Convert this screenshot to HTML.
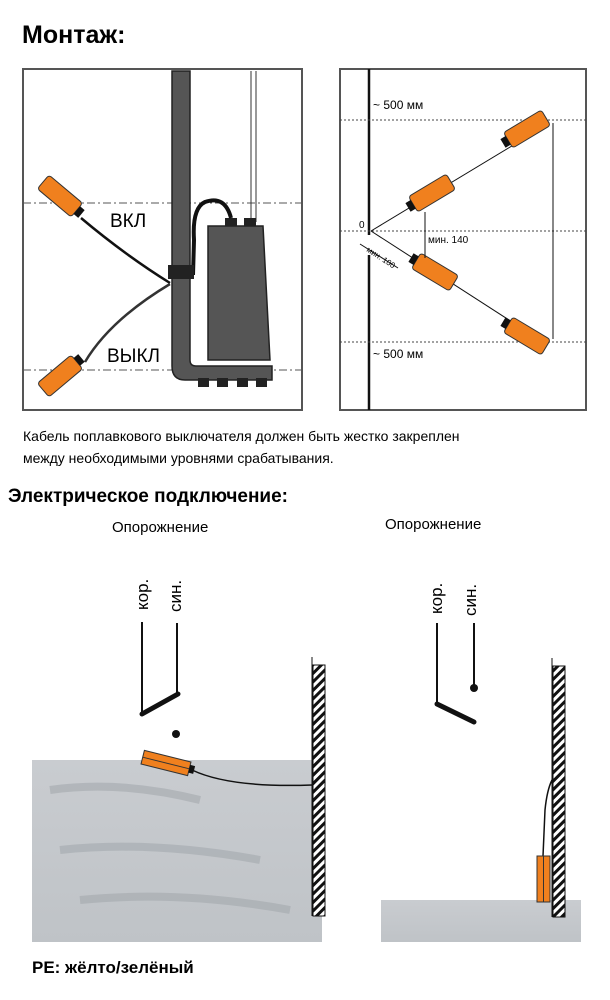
<!DOCTYPE html>
<html><head><meta charset="utf-8"><style>
body{margin:0;background:#fff;width:610px;height:1000px;overflow:hidden}
svg{display:block}
text{font-family:"Liberation Sans",sans-serif}
</style></head><body>
<svg width="610" height="1000" viewBox="0 0 610 1000">
<defs>
<pattern id="hatch" width="6" height="6" patternUnits="userSpaceOnUse" patternTransform="rotate(45)">
<rect width="6" height="6" fill="#fff"/><rect width="3" height="6" fill="#111"/></pattern>
<linearGradient id="wat" x1="0" y1="0" x2="0" y2="1"><stop offset="0" stop-color="#c9ccd0"/><stop offset="1" stop-color="#bfc3c7"/></linearGradient>
</defs>
<text x="22" y="43" font-size="25" font-weight="bold">Монтаж:</text>
<!-- left box -->
<rect x="23" y="69" width="279" height="341" fill="#fff" stroke="#555" stroke-width="2"/>
<line x1="23" y1="203" x2="302" y2="203" stroke="#555" stroke-dasharray="8,3,2,3"/>
<line x1="23" y1="370" x2="302" y2="370" stroke="#555" stroke-dasharray="8,3,2,3"/>
<path d="M172 71 H190 V360 Q190 366 196 366 H272 V380 H185 Q172 380 172 366 Z" fill="#555" stroke="#222" stroke-width="1.5"/>
<path d="M208 226 H263 L270 360 H208 Z" fill="#555" stroke="#222" stroke-width="1.5"/>
<rect x="198" y="378" width="11" height="9" fill="#222"/><rect x="217" y="378" width="11" height="9" fill="#222"/><rect x="237" y="378" width="11" height="9" fill="#222"/><rect x="256" y="378" width="11" height="9" fill="#222"/>
<line x1="251" y1="71" x2="251" y2="222" stroke="#333"/><line x1="256" y1="71" x2="256" y2="222" stroke="#333"/>
<rect x="244" y="218" width="12" height="8" fill="#222"/><rect x="225" y="218" width="12" height="8" fill="#222"/>
<path d="M231 218 Q225 195 205 202 Q192 208 194 240 L193 275" fill="none" stroke="#111" stroke-width="4"/>
<rect x="168" y="265" width="26" height="14" fill="#222"/>
<path d="M81 218 Q125 255 170 283" fill="none" stroke="#111" stroke-width="2.5"/>
<path d="M85 362 Q110 320 170 284" fill="none" stroke="#333" stroke-width="2.5"/>
<g transform="translate(60,196) rotate(40)"><rect x="-22" y="-9" width="44" height="18" rx="3" fill="#f0801e" stroke="#333"/><rect x="22" y="-5" width="6" height="10" fill="#111"/></g>
<g transform="translate(60,376) rotate(-40)"><rect x="-22" y="-9" width="44" height="18" rx="3" fill="#f0801e" stroke="#333"/><rect x="22" y="-5" width="6" height="10" fill="#111"/></g>
<text x="110" y="227" font-size="19">ВКЛ</text>
<text x="107" y="362" font-size="19">ВЫКЛ</text>
<!-- right box -->
<rect x="340" y="69" width="246" height="341" fill="#fff" stroke="#555" stroke-width="2"/>
<line x1="369" y1="69" x2="369" y2="410" stroke="#111" stroke-width="2.5"/>
<line x1="340" y1="120" x2="586" y2="120" stroke="#444" stroke-dasharray="2,2"/>
<line x1="340" y1="231" x2="586" y2="231" stroke="#444" stroke-dasharray="2,2"/>
<line x1="340" y1="342" x2="586" y2="342" stroke="#444" stroke-dasharray="2,2"/>
<rect x="366" y="235" width="6" height="20" fill="#fff"/>
<line x1="371" y1="231" x2="540" y2="129" stroke="#111"/>
<line x1="371" y1="231" x2="540" y2="340" stroke="#111"/>
<g transform="translate(432,193) rotate(-31)"><rect x="-22" y="-9" width="44" height="18" rx="3" fill="#f0801e" stroke="#333"/><rect x="-28" y="-5" width="6" height="10" fill="#111"/></g>
<g transform="translate(527,129) rotate(-31)"><rect x="-22" y="-9" width="44" height="18" rx="3" fill="#f0801e" stroke="#333"/><rect x="-28" y="-5" width="6" height="10" fill="#111"/></g>
<g transform="translate(435,272) rotate(31)"><rect x="-22" y="-9" width="44" height="18" rx="3" fill="#f0801e" stroke="#333"/><rect x="-28" y="-5" width="6" height="10" fill="#111"/></g>
<g transform="translate(527,336) rotate(31)"><rect x="-22" y="-9" width="44" height="18" rx="3" fill="#f0801e" stroke="#333"/><rect x="-28" y="-5" width="6" height="10" fill="#111"/></g>
<line x1="553" y1="123" x2="553" y2="339" stroke="#111"/>
<line x1="425" y1="212" x2="425" y2="258" stroke="#111"/>
<line x1="360" y1="244" x2="398" y2="268" stroke="#111"/>
<text x="373" y="109" font-size="12">~ 500 мм</text>
<text x="373" y="358" font-size="12">~ 500 мм</text>
<text x="359" y="228" font-size="10">0</text>
<text x="428" y="243" font-size="10">мин. 140</text>
<text x="366" y="251" font-size="8" transform="rotate(33 366 251)">мин. 100</text>
<text x="23" y="441" font-size="14">Кабель поплавкового выключателя должен быть жестко закреплен</text>
<text x="23" y="463" font-size="14">между необходимыми уровнями срабатывания.</text>
<text x="8" y="502" font-size="19" font-weight="bold">Электрическое подключение:</text>
<text x="112" y="532" font-size="15">Опорожнение</text>
<text x="385" y="529" font-size="15">Опорожнение</text>
<!-- left switch -->
<text font-size="17" transform="translate(148,610) rotate(-90)">кор.</text>
<text font-size="17" transform="translate(181,612) rotate(-90)">син.</text>
<line x1="142" y1="622" x2="142" y2="714" stroke="#111" stroke-width="2"/>
<line x1="177" y1="623" x2="177" y2="694" stroke="#111" stroke-width="2"/>
<line x1="142" y1="714" x2="178" y2="694" stroke="#111" stroke-width="5" stroke-linecap="round"/>
<circle cx="176" cy="734" r="4" fill="#111"/>
<rect x="32" y="760" width="290" height="182" fill="url(#wat)"/>
<path d="M50 790 Q120 780 200 800 M60 850 Q150 840 260 860 M80 900 Q180 890 290 910" stroke="#a4a8ad" stroke-width="8" fill="none" opacity="0.6"/>
<line x1="312" y1="657" x2="312" y2="916" stroke="#111"/>
<rect x="313" y="665" width="12" height="251" fill="url(#hatch)" stroke="#111"/>
<path d="M192 770 Q230 788 312 785" fill="none" stroke="#111" stroke-width="1.5"/>
<g transform="translate(166,763) rotate(14)"><rect x="-24" y="-7" width="48" height="14" fill="#f0801e" stroke="#333"/><line x1="-24" y1="0" x2="24" y2="0" stroke="#333"/><rect x="24" y="-4" width="5" height="8" fill="#111"/></g>
<!-- right switch -->
<text font-size="17" transform="translate(442,614) rotate(-90)">кор.</text>
<text font-size="17" transform="translate(476,616) rotate(-90)">син.</text>
<line x1="437" y1="623" x2="437" y2="704" stroke="#111" stroke-width="2"/>
<line x1="474" y1="623" x2="474" y2="687" stroke="#111" stroke-width="2"/>
<circle cx="474" cy="688" r="4" fill="#111"/>
<line x1="437" y1="704" x2="474" y2="722" stroke="#111" stroke-width="5" stroke-linecap="round"/>
<rect x="381" y="900" width="200" height="42" fill="url(#wat)"/>
<line x1="552" y1="658" x2="552" y2="917" stroke="#111"/>
<rect x="553" y="666" width="12" height="251" fill="url(#hatch)" stroke="#111"/>
<path d="M543 856 L545 810 Q547 790 552 780" fill="none" stroke="#111" stroke-width="1.5"/>
<rect x="537" y="856" width="13" height="46" fill="#f0801e" stroke="#333"/>
<line x1="543.5" y1="856" x2="543.5" y2="902" stroke="#333"/>
<text x="32" y="973" font-size="17" font-weight="bold">PE: жёлто/зелёный</text>
</svg>
</body></html>
